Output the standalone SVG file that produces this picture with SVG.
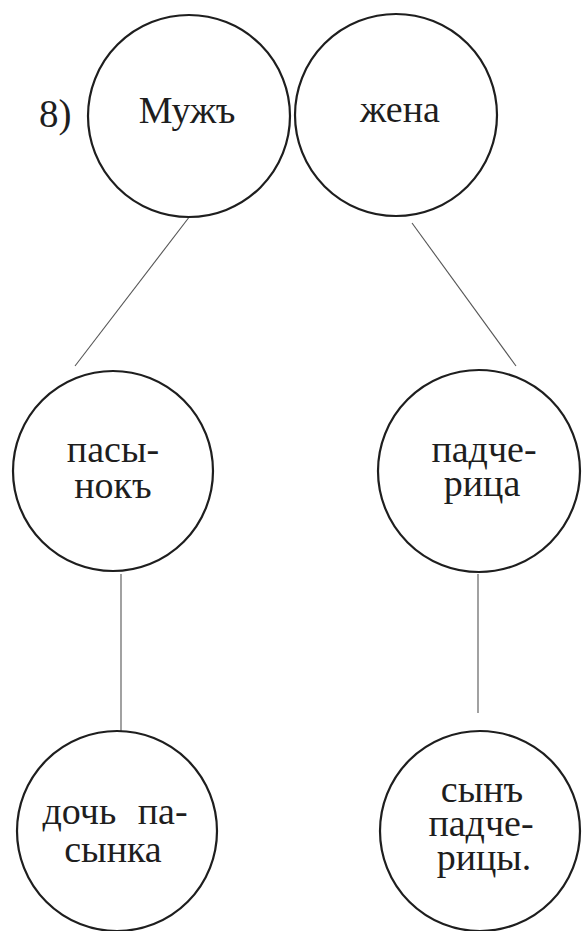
<svg xmlns="http://www.w3.org/2000/svg" width="584" height="931" viewBox="0 0 584 931">
<rect width="584" height="931" fill="#fff"/>
<text x="39" y="127" font-family="'Liberation Serif', 'Times New Roman', 'DejaVu Serif', serif" font-size="39" fill="#1e1e1e">8)</text>
<g id="connectors" stroke="#555" stroke-width="1.1">
<line x1="190" y1="216" x2="75" y2="366"/>
<line x1="412" y1="223" x2="516" y2="366"/>
<line x1="121" y1="574" x2="121" y2="732"/>
<line x1="478" y1="574" x2="478" y2="713"/>
</g>
<g id="muzh"><circle cx="189" cy="116" r="101" fill="none" stroke="#1e1e1e" stroke-width="2.2"/><text x="187" y="123" font-family="'Liberation Serif', 'Times New Roman', 'DejaVu Serif', serif" font-size="38" fill="#1e1e1e" text-anchor="middle">Мужъ</text></g>
<g id="zhena"><circle cx="396" cy="115" r="101" fill="none" stroke="#1e1e1e" stroke-width="2.2"/><text x="400" y="122" font-family="'Liberation Serif', 'Times New Roman', 'DejaVu Serif', serif" font-size="38" fill="#1e1e1e" text-anchor="middle">жена</text></g>
<g id="pasynok"><circle cx="113" cy="471" r="100" fill="none" stroke="#1e1e1e" stroke-width="2.2"/><text x="113" y="462" font-family="'Liberation Serif', 'Times New Roman', 'DejaVu Serif', serif" font-size="38" fill="#1e1e1e" text-anchor="middle">пасы-</text><text x="113" y="498" font-family="'Liberation Serif', 'Times New Roman', 'DejaVu Serif', serif" font-size="38" fill="#1e1e1e" text-anchor="middle">нокъ</text></g>
<g id="padcheritsa"><circle cx="479" cy="471" r="101" fill="none" stroke="#1e1e1e" stroke-width="2.2"/><text x="484" y="462" font-family="'Liberation Serif', 'Times New Roman', 'DejaVu Serif', serif" font-size="38" fill="#1e1e1e" text-anchor="middle">падче-</text><text x="482" y="496" font-family="'Liberation Serif', 'Times New Roman', 'DejaVu Serif', serif" font-size="38" fill="#1e1e1e" text-anchor="middle">рица</text></g>
<g id="doch"><circle cx="117" cy="831" r="100" fill="none" stroke="#1e1e1e" stroke-width="2.2"/><text x="115" y="824" font-family="'Liberation Serif', 'Times New Roman', 'DejaVu Serif', serif" font-size="38" fill="#1e1e1e" text-anchor="middle" word-spacing="12">дочь па-</text><text x="113" y="862" font-family="'Liberation Serif', 'Times New Roman', 'DejaVu Serif', serif" font-size="38" fill="#1e1e1e" text-anchor="middle">сынка</text></g>
<g id="syn"><circle cx="480" cy="831" r="100" fill="none" stroke="#1e1e1e" stroke-width="2.2"/><text x="482" y="802" font-family="'Liberation Serif', 'Times New Roman', 'DejaVu Serif', serif" font-size="38" fill="#1e1e1e" text-anchor="middle">сынъ</text><text x="481" y="836" font-family="'Liberation Serif', 'Times New Roman', 'DejaVu Serif', serif" font-size="38" fill="#1e1e1e" text-anchor="middle">падче-</text><text x="484" y="870" font-family="'Liberation Serif', 'Times New Roman', 'DejaVu Serif', serif" font-size="38" fill="#1e1e1e" text-anchor="middle">рицы.</text></g>
</svg>
